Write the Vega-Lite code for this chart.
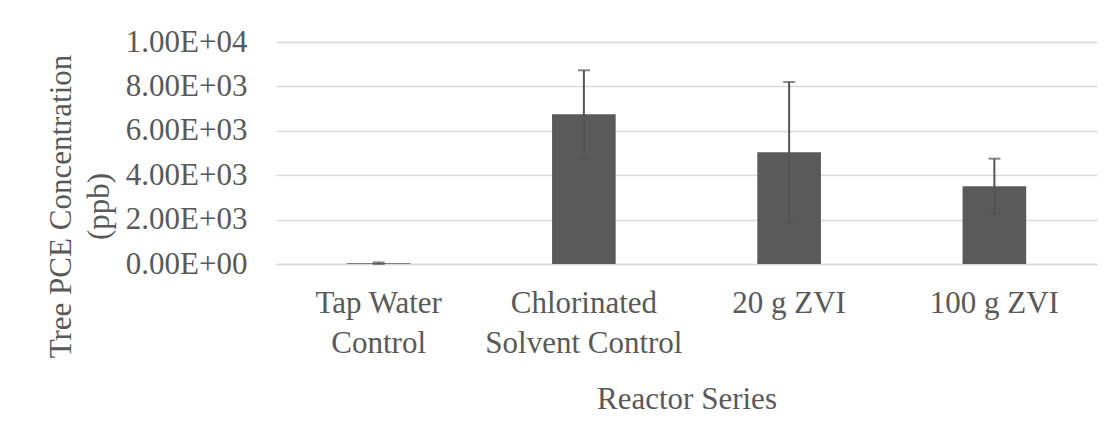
{
  "$schema": "https://vega.github.io/schema/vega-lite/v6.json",
  "autosize": "none",
  "width": 821,
  "height": 222,
  "padding": {"left": 276, "top": 42, "right": 15, "bottom": 163},
  "background": "white",
  "config": {
    "view": {"stroke": null},
    "font": "Liberation Serif",
    "axis": {"labelFont": "Liberation Serif", "titleFont": "Liberation Serif", "labelColor": "#595959", "titleColor": "#595959", "titleFontWeight": "normal"}
  },
  "data": {
    "values": [
      {"series": "Tap Water Control", "mean": 30, "lo": 0, "hi": 70},
      {"series": "Chlorinated Solvent Control", "mean": 6740, "lo": 4745, "hi": 8725},
      {"series": "20 g ZVI", "mean": 5030, "lo": 1880, "hi": 8200},
      {"series": "100 g ZVI", "mean": 3500, "lo": 2265, "hi": 4745}
    ]
  },
  "encoding": {
    "x": {
      "field": "series",
      "type": "nominal",
      "sort": null,
      "scale": {"paddingInner": 0.69, "paddingOuter": 0.345},
      "axis": {
        "title": "Reactor Series",
        "titleFontSize": 31,
        "titleBaseline": "alphabetic",
        "titleY": 144,
        "labelAngle": 0,
        "labelFontSize": 31,
        "labelLimit": 0,
        "labelBaseline": "alphabetic",
        "labelPadding": 48,
        "labelLineHeight": 40,
        "labelExpr": "datum.value == 'Tap Water Control' ? ['Tap Water', 'Control'] : datum.value == 'Chlorinated Solvent Control' ? ['Chlorinated', 'Solvent Control'] : datum.value",
        "ticks": false,
        "domain": true,
        "domainColor": "#d9d9d9",
        "domainWidth": 1.5
      }
    }
  },
  "layer": [
    {
      "mark": {"type": "bar", "color": "#5a5a5a"},
      "encoding": {
        "y": {
          "field": "mean",
          "type": "quantitative",
          "scale": {"domain": [0, 10000], "nice": false},
          "axis": {
            "values": [0, 2000, 4000, 6000, 8000, 10000],
            "title": ["Tree PCE Concentration", "(ppb)"],
            "titleFontSize": 31,
            "titleLineHeight": 38,
            "titleX": -199,
            "titleY": 164,
            "labelFontSize": 31,
            "labelLimit": 0,
            "labelPadding": 29,
            "labelExpr": "datum.value == 0 ? '0.00E+00' : datum.value == 10000 ? '1.00E+04' : format(datum.value / 1000, '.2f') + 'E+03'",
            "ticks": false,
            "domain": false,
            "grid": true,
            "gridColor": "#d9d9d9",
            "gridWidth": 1.5
          }
        }
      }
    },
    {
      "mark": {"type": "rule", "color": "#555555", "strokeWidth": 2},
      "encoding": {
        "y": {"field": "lo", "type": "quantitative"},
        "y2": {"field": "hi"}
      }
    },
    {
      "mark": {"type": "tick", "color": "#555555", "thickness": 2, "size": 12},
      "encoding": {"y": {"field": "hi", "type": "quantitative"}}
    },
    {
      "mark": {"type": "tick", "color": "#555555", "thickness": 2, "size": 12},
      "encoding": {"y": {"field": "lo", "type": "quantitative"}}
    }
  ]
}
